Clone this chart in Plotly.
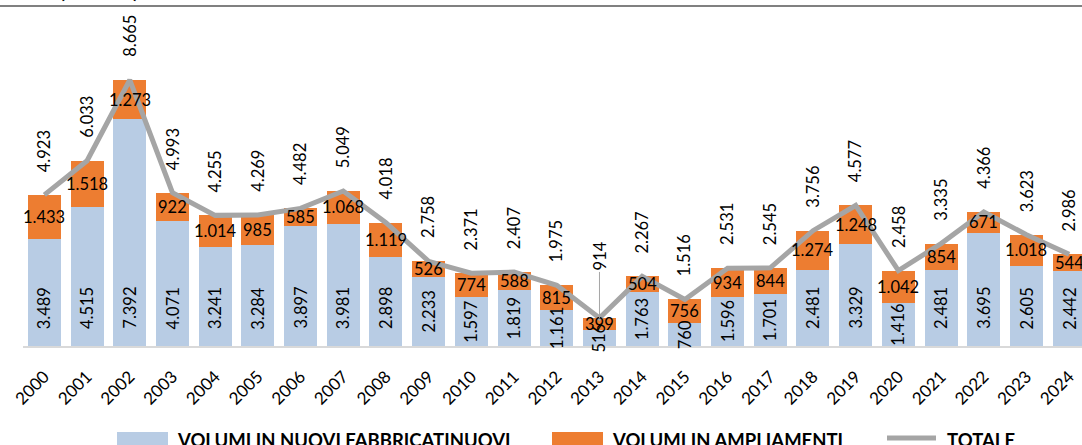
import plotly.graph_objects as go

years = [str(y) for y in range(2000, 2025)]
nuovi = [3489, 4515, 7392, 4071, 3241, 3284, 3897, 3981, 2898, 2233, 1597, 1819, 1161,
         516, 1763, 760, 1596, 1701, 2481, 3329, 1416, 2481, 3695, 2605, 2442]
ampliamenti = [1433, 1518, 1273, 922, 1014, 985, 585, 1068, 1119, 526, 774, 588, 815,
               399, 504, 756, 934, 844, 1274, 1248, 1042, 854, 671, 1018, 544]
totale = [4923, 6033, 8665, 4993, 4255, 4269, 4482, 5049, 4018, 2758, 2371, 2407, 1975,
          914, 2267, 1516, 2531, 2545, 3756, 4577, 2458, 3335, 4366, 3623, 2986]

names = ["VOLUMI IN NUOVI FABBRICATINUOVI", "VOLUMI IN AMPLIAMENTI", "TOTALE"]
title_text = "VOLUMI EDIFICATI (000 m3)"

BLUE = "#b8cce4"
ORANGE = "#ed7d31"
GREY = "#a5a5a5"
FONT = "Lato"

W, H = 1082, 445
ML, MT, MB, MR = 23, 0, 99, 0
PH = H - MT - MB
YMAX = 11270


def fmt(v):
    return f"{v:,}".replace(",", ".")


def py(p):
    # pixel y -> paper y
    return 1 - (p - MT) / PH


def px(p):
    return (p - ML) / (W - ML - MR)


fig = go.Figure()
fig.add_trace(go.Bar(x=years, y=nuovi, name=names[0], marker=dict(color=BLUE, line=dict(width=0)),
                     showlegend=False))
fig.add_trace(go.Bar(x=years, y=ampliamenti, name=names[1], marker=dict(color=ORANGE, line=dict(width=0)),
                     showlegend=False))
fig.add_trace(go.Scatter(x=years, y=totale, name=names[2], mode="lines",
                         line=dict(color=GREY, width=5), showlegend=False))

ann = []
base_off = 1240  # data units above base for label centre in tall bars
LF = dict(family=FONT, size=16.5, color="black")
for i, yr in enumerate(years):
    # blue values, rotated
    ann.append(dict(x=i, y=min(nuovi[i] / 2, base_off), text=fmt(nuovi[i]), textangle=-90,
                    showarrow=False, xanchor="center", yanchor="middle", font=LF))
    # orange values, horizontal
    ann.append(dict(x=i, y=nuovi[i] + ampliamenti[i] / 2, text=fmt(ampliamenti[i]),
                    showarrow=False, xanchor="center", yanchor="middle", font=LF))
    # totals
    if yr == "2013":
        ann.append(dict(x=i, y=totale[i], text=fmt(totale[i]), textangle=-90,
                        showarrow=True, arrowhead=0, arrowwidth=1, arrowcolor=GREY,
                        ax=0, ay=-62, standoff=0, font=LF))
    else:
        ann.append(dict(x=i, y=totale[i], text=fmt(totale[i]), textangle=-90,
                        showarrow=False, xanchor="center", yanchor="bottom", yshift=21, font=LF))

# title (cut at top)
ann.append(dict(xref="paper", yref="paper", x=px(141), y=py(4), text=title_text,
                showarrow=False, xanchor="right", yanchor="bottom",
                font=dict(family=FONT, size=20, color="black", weight="bold")))

# custom legend
shapes = []
leg_y = 440
leg_items = [
    (117, 168, 175, names[0], "bar", BLUE),
    (552, 603, 610, names[1], "bar", ORANGE),
    (885, 938, 945, names[2], "line", GREY),
]
for x0, x1, tx, label, kind, col in leg_items:
    if kind == "bar":
        shapes.append(dict(type="rect", xref="paper", yref="paper", x0=px(x0), x1=px(x1),
                           y0=py(432), y1=py(448), fillcolor=col, line=dict(width=0), layer="above"))
    else:
        shapes.append(dict(type="line", xref="paper", yref="paper", x0=px(x0 + 2), x1=px(x1 - 2),
                           y0=py(438), y1=py(438), line=dict(color=col, width=5)))
    ann.append(dict(xref="paper", yref="paper", x=px(tx), y=py(leg_y), text=label,
                    showarrow=False, xanchor="left", yanchor="middle",
                    font=dict(family=FONT, size=18.5, color="black", weight="bold")))

# top rule
shapes.append(dict(type="line", xref="paper", yref="paper", x0=px(0), x1=px(W), y0=py(6), y1=py(6),
                   line=dict(color="#808080", width=2)))

fig.update_layout(
    width=W, height=H,
    margin=dict(l=ML, r=MR, t=MT, b=MB, pad=0),
    barmode="stack", bargap=0.227,
    plot_bgcolor="white", paper_bgcolor="white",
    xaxis=dict(type="category", range=[-0.5, 24.3], tickangle=-45, ticks="",
               showline=True, linecolor="#d9d9d9", linewidth=2,
               tickfont=dict(family=FONT, size=17, color="black"), ticklabelstandoff=12,
               showgrid=False, zeroline=False),
    yaxis=dict(range=[0, YMAX], visible=False, showgrid=False, zeroline=False),
    annotations=ann, shapes=shapes,
    font=dict(family=FONT),
)

fig.write_html("out.html", config={"displayModeBar": False},
               post_script="document.body.style.margin='0px';")
